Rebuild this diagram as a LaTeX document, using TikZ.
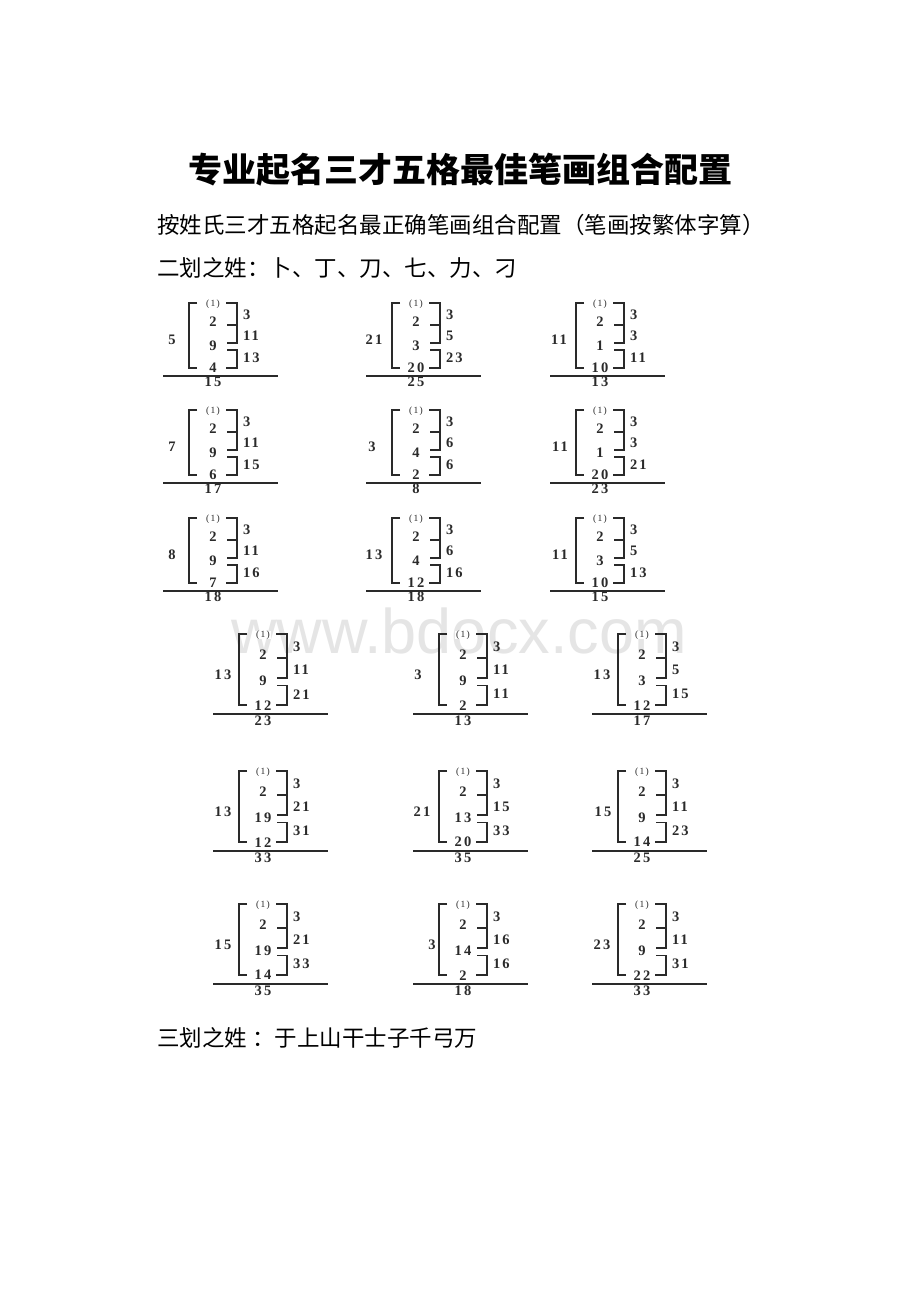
\documentclass[tikz,border=0pt]{standalone}
\usepackage{fontspec}
\setmainfont{Liberation Serif}
\newfontfamily\cjk{Noto Sans CJK SC}
\newfontfamily\numf[LetterSpace=14]{Liberation Serif}
\newfontfamily\wmf{Liberation Sans}
\definecolor{ink}{HTML}{2A2A2A}
\tikzset{
  br/.style={draw=ink,line width=1.8pt},
  hl/.style={draw=ink,line width=1.3pt},
  num/.style={font=\numf\bfseries\fontsize{14.5}{15}\selectfont,text=ink,inner sep=0pt},
  sm/.style={font=\numf\fontsize{9.5}{10}\selectfont,text=ink,inner sep=0pt},
  body/.style={font=\cjk\fontsize{22.5}{26}\selectfont,anchor=west,inner sep=0pt}
}
% #1 name, #2 x of left number, #3 left number, #4 third inner, #5 fourth inner, #6 r2, #7 r3, #8 total
\newcommand\blk[8]{%
  \draw[hl] (0,0) -- (115,0);
  \draw[br] (34,-73) -- (26,-73) -- (26,-8) -- (34,-8);
  \draw[br] (63,-73) -- (74,-73) -- (74,-51) -- (64,-51);
  \draw[br] (74,-51) -- (74,-33) -- (64,-33);
  \draw[br] (64,-26) -- (74,-26) -- (74,-8) -- (63,-8);
  \node[num] (#1l) at (#2,-36) {#3};
  \node[sm,fill=white,inner xsep=1pt] (#1a) at (50,-72) {(1)};
  \node[num] (#1b) at (50,-54) {2};
  \node[num] (#1c) at (50,-30) {#4};
  \node[num,fill=white,inner xsep=1pt] (#1d) at (50,-8) {#5};
  \node[num,anchor=west] (#1r1) at (80,-61) {3};
  \node[num,anchor=west] (#1r2) at (80,-40) {#6};
  \node[num,anchor=west] (#1r3) at (80,-18) {#7};
  \node[num] (#1t) at (50,6) {#8};
}
\begin{document}
\begin{tikzpicture}[x=1pt,y=-1pt]
\useasboundingbox (0,0) rectangle (920,1302);
\fill[white] (0,0) rectangle (920,1302);
% watermark
\node[font=\wmf\fontsize{63}{70}\selectfont,text=black!10,anchor=base,inner sep=0pt] (wm) at (459,653) {www.bdocx.com};
% texts
\node[font=\cjk\bfseries\fontsize{34}{40}\selectfont,inner sep=0pt] (title) at (460,170) {专业起名三才五格最佳笔画组合配置};
\node[body] (l1) at (157,225) {按姓氏三才五格起名最正确笔画组合配置（笔画按繁体字算）};
\node[body] (l2) at (157,268) {二划之姓：卜、丁、刀、七、力、刁};
\node[body] (l3) at (157,1038) {三划之姓 ：于上山干士子千弓万};
% rows 1-3
\begin{scope}[shift={(163,376)}]\blk{a1}{9}{5}{9}{4}{11}{13}{15}\end{scope}
\begin{scope}[shift={(366,376)}]\blk{a2}{8}{21}{3}{20}{5}{23}{25}\end{scope}
\begin{scope}[shift={(550,376)}]\blk{a3}{9}{11}{1}{10}{3}{11}{13}\end{scope}
\begin{scope}[shift={(163,483)}]\blk{b1}{9}{7}{9}{6}{11}{15}{17}\end{scope}
\begin{scope}[shift={(366,483)}]\blk{b2}{6}{3}{4}{2}{6}{6}{8}\end{scope}
\begin{scope}[shift={(550,483)}]\blk{b3}{10}{11}{1}{20}{3}{21}{23}\end{scope}
\begin{scope}[shift={(163,591)}]\blk{c1}{9}{8}{9}{7}{11}{16}{18}\end{scope}
\begin{scope}[shift={(366,591)}]\blk{c2}{8}{13}{4}{12}{6}{16}{18}\end{scope}
\begin{scope}[shift={(550,591)}]\blk{c3}{10}{11}{3}{10}{5}{13}{15}\end{scope}
% rows 4-6
\begin{scope}[shift={(213,714)},yscale=1.1]\blk{d1}{10}{13}{9}{12}{11}{21}{23}\end{scope}
\begin{scope}[shift={(413,714)},yscale=1.1]\blk{d2}{5}{3}{9}{2}{11}{11}{13}\end{scope}
\begin{scope}[shift={(592,714)},yscale=1.1]\blk{d3}{10}{13}{3}{12}{5}{15}{17}\end{scope}
\begin{scope}[shift={(213,851)},yscale=1.1]\blk{e1}{10}{13}{19}{12}{21}{31}{33}\end{scope}
\begin{scope}[shift={(413,851)},yscale=1.1]\blk{e2}{9}{21}{13}{20}{15}{33}{35}\end{scope}
\begin{scope}[shift={(592,851)},yscale=1.1]\blk{e3}{11}{15}{9}{14}{11}{23}{25}\end{scope}
\begin{scope}[shift={(213,984)},yscale=1.1]\blk{f1}{10}{15}{19}{14}{21}{33}{35}\end{scope}
\begin{scope}[shift={(413,984)},yscale=1.1]\blk{f2}{19}{3}{14}{2}{16}{16}{18}\end{scope}
\begin{scope}[shift={(592,984)},yscale=1.1]\blk{f3}{10}{23}{9}{22}{11}{31}{33}\end{scope}
\end{tikzpicture}
\end{document}
